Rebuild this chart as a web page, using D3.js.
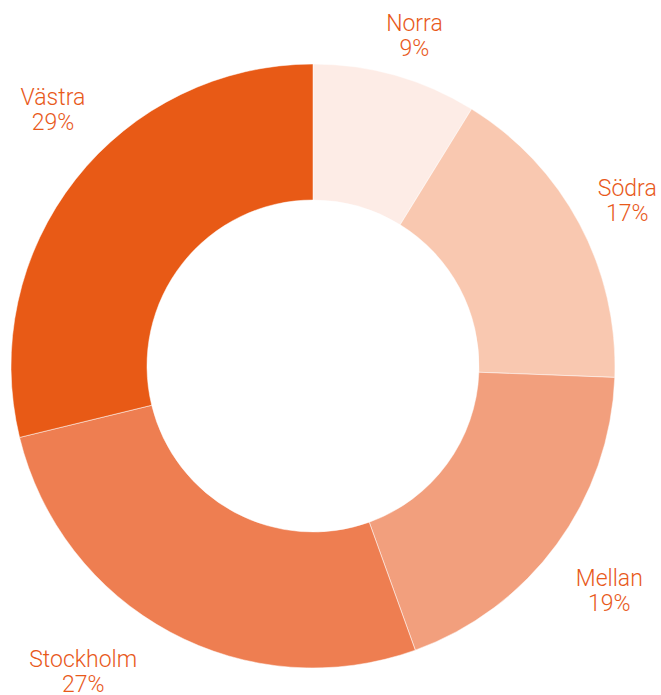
<!DOCTYPE html>
<html>
<head>
<meta charset="utf-8">
<script src="https://cdn.jsdelivr.net/npm/d3@7"></script>
<style>
  body { margin: 0; background: #fff; }
  text { font-family: "Roboto", "Inter", sans-serif; font-weight: 300; }
</style>
</head>
<body>
<div id="chart"></div>
<script>
var width = 661
var height = 695

// regions (share of total, clockwise from 12 o'clock)
var regions = ["Norra", "Södra", "Mellan", "Stockholm", "Västra"]
var shares = [8.8, 16.8, 18.9, 26.7, 28.8]
var shareLabels = ["9%", "17%", "19%", "27%", "29%"]
var colors = ["#fdece6", "#f9c8b0", "#f29f7d", "#ee7e51", "#e85a16"]

// label placement tweaks (dx, dy) from the centroid on the label ring
var labelNudge = [[7, 2], [9, -3], [17, 20], [-66, 0], [12, -43]]

var cx = 313, cy = 366
var outerR = 302, innerR = 166, labelR = 346

var data = regions.map(function(d, i) {
    return {name: d, value: shares[i], label: shareLabels[i], color: colors[i], nudge: labelNudge[i]}
})

var pie = d3.pie().sort(null).value(function(d) { return d.value })
var arc = d3.arc().innerRadius(innerR).outerRadius(outerR)
var labelArc = d3.arc().innerRadius(labelR).outerRadius(labelR)

var svg = d3.select("#chart")
    .append("svg")
        .attr("width", width)
        .attr("height", height)

var g = svg.append("g")
    .attr("transform", "translate(" + cx + "," + cy + ")")

var arcs = pie(data)

g.selectAll("path")
    .data(arcs)
    .enter()
    .append("path")
        .attr("d", arc)
        .attr("fill", function(d) { return d.data.color })
        .attr("stroke", "#fff")
        .attr("stroke-width", 0.5)

var labels = g.selectAll("text.lbl")
    .data(arcs)
    .enter()
    .append("text")
        .attr("class", "lbl")
        .attr("text-anchor", "middle")
        .attr("font-size", "23px")
        .attr("fill", "#e8591a")
        .attr("transform", function(d) {
            var c = labelArc.centroid(d)
            return "translate(" + (c[0] + d.data.nudge[0]) + "," + (c[1] + d.data.nudge[1]) + ")"
        })

labels.append("tspan")
    .attr("x", 0)
    .attr("y", -4)
    .text(function(d) { return d.data.name })

labels.append("tspan")
    .attr("x", 0)
    .attr("y", 21)
    .text(function(d) { return d.data.label })
</script>
</body>
</html>
